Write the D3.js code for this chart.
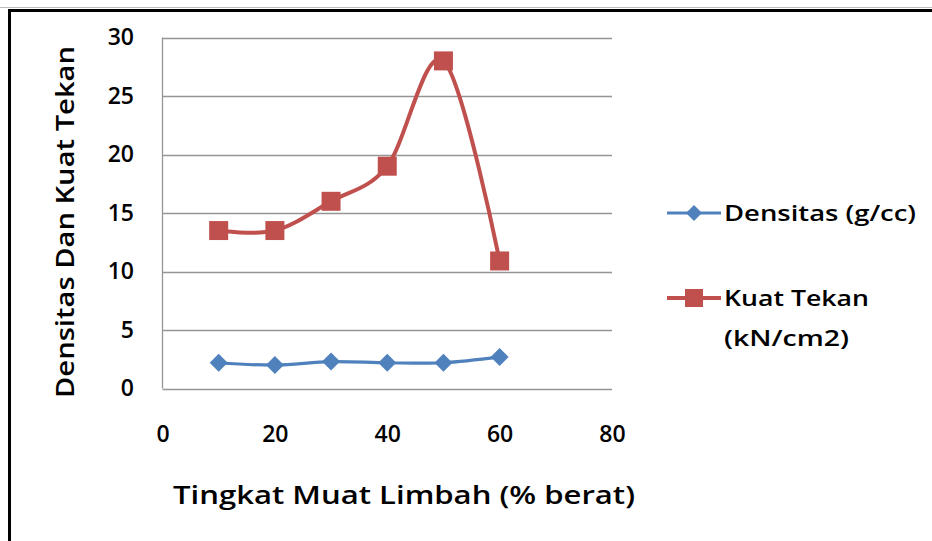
<!DOCTYPE html>
<html><head><meta charset="utf-8">
<script src="https://cdn.jsdelivr.net/npm/d3@7"></script>
<style>
html,body{margin:0;padding:0;background:#fff;}
svg{display:block;}
text{font-family:"Open Sans","Noto Sans",sans-serif;font-weight:600;fill:#000;}
</style></head>
<body>
<script>
const xValues = [10, 20, 30, 40, 50, 60];
const densitas = [2.2, 2.0, 2.3, 2.2, 2.2, 2.7];
const kuatTekan = [13.5, 13.5, 16.0, 19.0, 28.0, 10.9];
const xTicks = [0, 20, 40, 60, 80];
const yTicks = [0, 5, 10, 15, 20, 25, 30];
const seriesNames = ["Densitas (g/cc)", "Kuat Tekan (kN/cm2)"];
const xTitle = "Tingkat Muat Limbah (% berat)";
const yTitle = "Densitas Dan Kuat Tekan";

const W = 932, H = 541;
const svg = d3.select("body").append("svg").attr("width", W).attr("height", H);
svg.append("rect").attr("width", W).attr("height", H).attr("fill", "#fff");

// frame (top and left edges visible)
svg.append("line").attr("x1", 0).attr("x2", W).attr("y1", 7.5).attr("y2", 7.5).attr("stroke", "#bbb").attr("stroke-width", 1);
svg.append("line").attr("x1", 9.5).attr("x2", W).attr("y1", 10.5).attr("y2", 10.5).attr("stroke", "#000").attr("stroke-width", 3);
svg.append("line").attr("x1", 9.5).attr("x2", 9.5).attr("y1", 9).attr("y2", H).attr("stroke", "#000").attr("stroke-width", 3);

const x = d3.scaleLinear().domain([0, 80]).range([162.5, 612]);
const y = d3.scaleLinear().domain([0, 30]).range([388.5, 37.5]);

// gridlines
svg.append("g").selectAll("line").data(yTicks).join("line")
  .attr("x1", x(0)).attr("x2", x(80))
  .attr("y1", d => Math.round(y(d)) + 0.5).attr("y2", d => Math.round(y(d)) + 0.5)
  .attr("stroke", "#959595").attr("stroke-width", 1.3);
// y axis line
svg.append("line").attr("x1", x(0)).attr("x2", x(0)).attr("y1", y(30)).attr("y2", y(0))
  .attr("stroke", "#959595").attr("stroke-width", 1.3);

const tickFont = sel => sel.style("font-size", "23px").style("font-family", "'Open Sans',sans-serif").style("font-weight", "600").attr("fill", "#000");

// y tick labels
const yAxis = d3.axisLeft(y).tickValues(yTicks).tickSize(0).tickPadding(0);
const gy = svg.append("g").attr("transform", "translate(134,0)").call(yAxis);
gy.select(".domain").remove();
gy.selectAll("text").call(tickFont);

// x tick labels
const xAxis = d3.axisBottom(x).tickValues(xTicks).tickSize(0).tickPadding(0);
const gx = svg.append("g").attr("transform", "translate(0,426)").call(xAxis);
gx.select(".domain").remove();
gx.selectAll("text").call(tickFont);

// titles
svg.append("text").attr("x", 404).attr("y", 504).attr("text-anchor", "middle")
  .attr("textLength", 462).attr("lengthAdjust", "spacingAndGlyphs")
  .style("font-size", "25px").text(xTitle);
svg.append("text").attr("transform", "translate(74,222) rotate(-90)").attr("text-anchor", "middle")
  .attr("textLength", 352).attr("lengthAdjust", "spacingAndGlyphs")
  .style("font-size", "25px").text(yTitle);

const red = "#C0504D", blue = "#4F81BD";
const line = d3.line().x(d => x(d[0])).y(d => y(d[1])).curve(d3.curveCardinal.tension(0));
const dData = xValues.map((v, i) => [v, densitas[i]]);
const kData = xValues.map((v, i) => [v, kuatTekan[i]]);

svg.append("path").datum(dData).attr("d", line).attr("fill", "none").attr("stroke", blue).attr("stroke-width", 3.2);
svg.append("path").datum(kData).attr("d", line).attr("fill", "none").attr("stroke", red).attr("stroke-width", 4);

svg.append("g").selectAll("path").data(dData).join("path")
  .attr("d", "M0,-9L9,0L0,9L-9,0Z")
  .attr("transform", d => `translate(${x(d[0])},${y(d[1])})`).attr("fill", blue);
svg.append("g").selectAll("rect").data(kData).join("rect")
  .attr("x", d => x(d[0]) - 9.5).attr("y", d => y(d[1]) - 9.5).attr("width", 19).attr("height", 19).attr("fill", red);

// legend
const lg = svg.append("g");
lg.append("line").attr("x1", 667).attr("x2", 721).attr("y1", 213).attr("y2", 213).attr("stroke", blue).attr("stroke-width", 3.2);
lg.append("path").attr("d", "M0,-8L8,0L0,8L-8,0Z").attr("transform", "translate(694,213)").attr("fill", blue);
lg.append("text").attr("x", 724).attr("y", 221).attr("textLength", 192).attr("lengthAdjust", "spacingAndGlyphs")
  .style("font-size", "21px").text(seriesNames[0]);
lg.append("line").attr("x1", 667).attr("x2", 721).attr("y1", 298).attr("y2", 298).attr("stroke", red).attr("stroke-width", 4);
lg.append("rect").attr("x", 685).attr("y", 289).attr("width", 18).attr("height", 18).attr("fill", red);
const parts = seriesNames[1].split(" (");
lg.append("text").attr("x", 724).attr("y", 306).attr("textLength", 145).attr("lengthAdjust", "spacingAndGlyphs")
  .style("font-size", "21px").text(parts[0]);
lg.append("text").attr("x", 724).attr("y", 346).attr("textLength", 125).attr("lengthAdjust", "spacingAndGlyphs")
  .style("font-size", "21px").text("(" + parts[1]);
</script>
</body></html>
